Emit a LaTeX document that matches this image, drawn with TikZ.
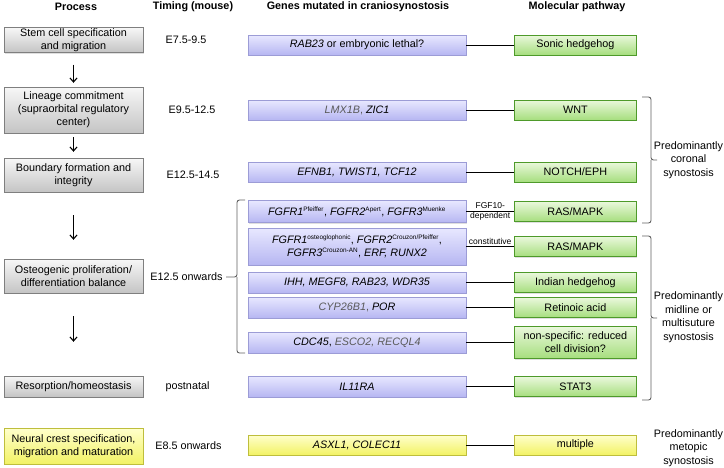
\documentclass[tikz,border=0pt]{standalone}
\usepackage{fontspec}
\setmainfont{Liberation Sans}
\usetikzlibrary{positioning,shadows,arrows.meta}

\definecolor{procline}{HTML}{7F7F7F}
\definecolor{proctop}{HTML}{F7F7F7}
\definecolor{procbot}{HTML}{C4C4C4}
\definecolor{geneline}{HTML}{9C9CD6}
\definecolor{genetop}{HTML}{E8E8FF}
\definecolor{genebot}{HTML}{B6B6F2}
\definecolor{pathline}{HTML}{4E9A2A}
\definecolor{pathtop}{HTML}{EAF8DC}
\definecolor{pathbot}{HTML}{A6DE7E}
\definecolor{yelline}{HTML}{BEBE3C}
\definecolor{yeltop}{HTML}{FFFFCC}
\definecolor{yelbot}{HTML}{F2F264}
\definecolor{dimgene}{HTML}{5A5A5A}
\definecolor{klammerfarbe}{HTML}{5F5F5F}

\newcommand{\allele}[1]{\textsuperscript{\upshape\fontsize{6.4}{7}\selectfont #1}}
\newcommand{\dimg}[1]{\textcolor{dimgene}{#1}}

\begin{document}
\begin{tikzpicture}[x=1pt,y=-1pt,
	every node/.style={font=\fontsize{10.8}{13}\selectfont},
	kopf/.style={font=\fontsize{10.8}{13}\selectfont\bfseries},
	kasten/.style={align=center,inner sep=1pt,
		drop shadow={shadow xshift=1pt,shadow yshift=-1.2pt,opacity=.25}},
	prozess/.style={kasten,draw=procline,top color=proctop,bottom color=procbot,minimum width=139pt},
	gen/.style={kasten,draw=geneline,top color=genetop,bottom color=genebot,minimum width=218pt,minimum height=20pt},
	weg/.style={kasten,draw=pathline,top color=pathtop,bottom color=pathbot,minimum width=122pt,minimum height=20pt},
	gelb/.style={draw=yelline,top color=yeltop,bottom color=yelbot},
	zeit/.style={inner sep=1pt},
	pfeil/.style={-{Straight Barb[length=4pt,width=7pt]},line width=1.1pt},
	verbindung/.style={line width=1pt},
	etikett/.style={font=\fontsize{8.5}{10.5}\selectfont,inner sep=1pt,align=center},
	klammer/.style={draw=klammerfarbe,line width=.9pt,rounded corners=2.5pt},
	seitentext/.style={align=center,font=\fontsize{10.8}{13.5}\selectfont}]

\useasboundingbox (0,0) rectangle (724,467);

%-------------------------------------------------------------------------------
% Headers
%-------------------------------------------------------------------------------
\node (hprocess)	[kopf] at (76,7)	{Process};
\node (htiming)		[kopf] at (193,7)	{Timing (mouse)};
\node (hgenes)		[kopf] at (358,7)	{Genes mutated in craniosynostosis};
\node (hpathway)	[kopf] at (577,7)	{Molecular pathway};

%-------------------------------------------------------------------------------
% Process
%-------------------------------------------------------------------------------
\node (stemcell)	[prozess,minimum height=24pt] at (73.5,40)	{Stem cell specification\\and migration};
\node (lineage)		[prozess,minimum height=46pt] at (73.5,110)	{Lineage commitment\\(supraorbital regulatory\\center)};
\node (boundary)	[prozess,minimum height=34pt] at (73.5,175)	{Boundary formation and\\integrity};
\node (osteogenic)	[prozess,minimum height=34pt] at (73.5,276)	{Osteogenic proliferation/\\differentiation balance};
\node (resorption)	[prozess,minimum height=21pt] at (73.5,386.5)	{Resorption/homeostasis};
\node (neuralcrest)	[prozess,gelb,minimum height=36pt] at (73.5,446)	{Neural crest specification,\\migration and maturation};

\draw [pfeil,shorten <=12pt,shorten >=4pt]	(stemcell) -- (lineage);
\draw [pfeil,shorten <=4pt,shorten >=6pt]	(lineage) -- (boundary);
\draw [pfeil,shorten <=23pt,shorten >=19pt]	(boundary) -- (osteogenic);
\draw [pfeil,shorten <=23pt,shorten >=34pt]	(osteogenic) -- (resorption);

%-------------------------------------------------------------------------------
% Timing
%-------------------------------------------------------------------------------
\node (tstem)		[zeit] at (186,40)		{E7.5-9.5};
\node (tlineage)	[zeit] at (192,110)		{E9.5-12.5};
\node (tboundary)	[zeit] at (193,175)		{E12.5-14.5};
\node (tosteo)		[zeit] at (186.5,277)	{E12.5 onwards};
\node (tresorp)		[zeit] at (187.5,386.5)	{postnatal};
\node (tneural)		[zeit] at (188.5,446)	{E8.5 onwards};

%-------------------------------------------------------------------------------
% Genes and pathways
%-------------------------------------------------------------------------------
\node (grab)	[gen] at (357,45)	{\textit{RAB23} or embryonic lethal?};
\node (glmx)	[gen] at (357,110)	{\dimg{\textit{LMX1B},} \textit{ZIC1}};
\node (gefnb)	[gen] at (357,172)	{\textit{EFNB1, TWIST1, TCF12}};
\node (gfgfa)	[gen,minimum height=22pt] at (357,211.5)
	{\textit{FGFR1}\allele{Pfeiffer}, \textit{FGFR2}\allele{Apert}, \textit{FGFR3}\allele{Muenke}};
\node (gfgfb)	[gen,minimum height=37pt] at (357,246.5)
	{\textit{FGFR1}\allele{osteoglophonic}, \textit{FGFR2}\allele{Crouzon/Pfeiffer},\\\textit{FGFR3}\allele{Crouzon-AN}, \textit{ERF, RUNX2}};
\node (gihh)	[gen,minimum height=21pt] at (357,282.5)	{\textit{IHH, MEGF8, RAB23, WDR35}};
\node (gcyp)	[gen,minimum height=21pt] at (357,307.5)	{\dimg{\textit{CYP26B1},} \textit{POR}};
\node (gcdc)	[gen,minimum height=21pt] at (357,342.5)	{\textit{CDC45}, \dimg{\textit{ESCO2, RECQL4}}};
\node (gil)		[gen,minimum height=21pt] at (357,386.5)	{\textit{IL11RA}};
\node (gasx)	[gen,gelb] at (357,445)	{\textit{ASXL1, COLEC11}};

\node (wshh)	[weg,right=48pt of grab]	{Sonic hedgehog};
\node (wwnt)	[weg,right=48pt of glmx]	{WNT};
\node (wnotch)	[weg,right=48pt of gefnb]	{NOTCH/EPH};
\node (wrasa)	[weg,right=48pt of gfgfa]	{RAS/MAPK};
\node (wrasb)	[weg,right=48pt of gfgfb]	{RAS/MAPK};
\node (wihh)	[weg,right=48pt of gihh]	{Indian hedgehog};
\node (wret)	[weg,right=48pt of gcyp]	{Retinoic acid};
\node (wcell)	[weg,minimum height=32pt,right=48pt of gcdc]	{non-specific: reduced\\cell division?};
\node (wstat)	[weg,right=48pt of gil]		{STAT3};
\node (wmult)	[weg,gelb,right=48pt of gasx]	{multiple};

\draw [verbindung] (grab) -- (wshh);
\draw [verbindung] (glmx) -- (wwnt);
\draw [verbindung] (gefnb) -- (wnotch);
\draw [verbindung] (gfgfa) -- node [etikett] {FGF10-\\dependent} (wrasa);
\draw [verbindung] (gfgfb) -- node [etikett,above] {constitutive} (wrasb);
\draw [verbindung] (gihh) -- (wihh);
\draw [verbindung] (gcyp) -- (wret);
\draw [verbindung] (gcdc) -- (wcell);
\draw [verbindung] (gil) -- (wstat);
\draw [verbindung] (gasx) -- (wmult);

%-------------------------------------------------------------------------------
% Brackets
%-------------------------------------------------------------------------------
\draw [klammer] (245,200) -| (237,277) -- (226,277);
\draw [klammer] (237,277) |- (245,353);

\draw [klammer] (642,97) -| (651,160) -- (657,160);
\draw [klammer] (651,160) |- (642,223);
\node (coronal) [seitentext] at (688.5,160) {Predominantly\\coronal\\synostosis};

\draw [klammer] (642,236) -| (651,318) -- (657,318);
\draw [klammer] (651,318) |- (642,400);
\node (midline) [seitentext] at (688.5,317) {Predominantly\\midline or\\multisuture\\synostosis};

\node (metopic) [seitentext] at (688.5,448) {Predominantly\\metopic\\synostosis};
\end{tikzpicture}
\end{document}
